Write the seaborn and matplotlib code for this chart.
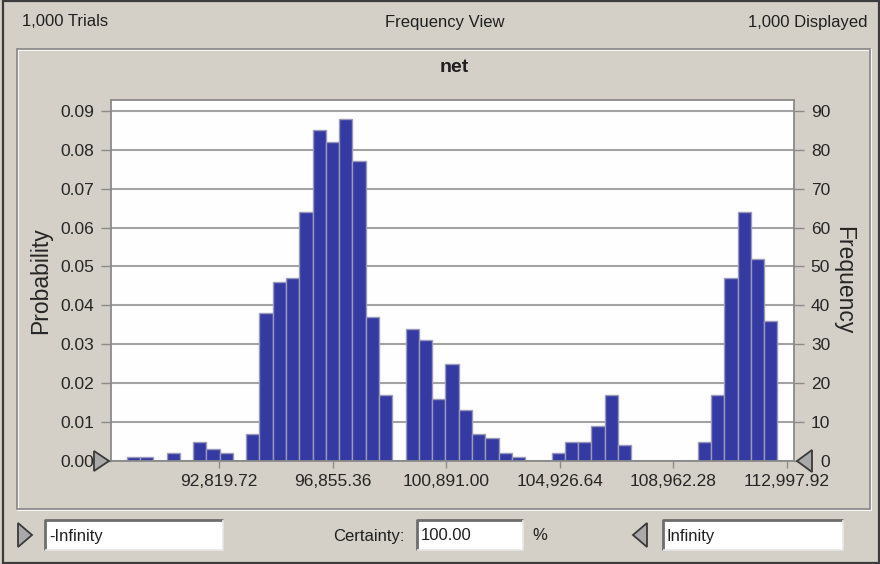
import numpy as np
import pandas as pd
import matplotlib
matplotlib.use("Agg")
import matplotlib.pyplot as plt
import seaborn as sns
from matplotlib.patches import Rectangle, Polygon
from matplotlib.ticker import FuncFormatter, FormatStrFormatter

# ---------------- data ----------------
bin_start = 89539.0
bin_width = 472.0
counts = [1, 1, 0, 2, 0, 5, 3, 2, 0, 7, 38, 46, 47, 64, 85, 82, 88, 77, 37, 17,
          0, 34, 31, 16, 25, 13, 7, 6, 2, 1, 0, 0, 2, 5, 5, 9, 17, 4, 0, 0,
          0, 0, 0, 5, 17, 47, 64, 52, 36]
x_ticks = [92819.72, 96855.36, 100891.00, 104926.64, 108962.28, 112997.92]
prob_ticks = [0.00, 0.01, 0.02, 0.03, 0.04, 0.05, 0.06, 0.07, 0.08, 0.09]
freq_ticks = [0, 10, 20, 30, 40, 50, 60, 70, 80, 90]
x_range = (88981, 113257)
title = "net"
trials_text = "1,000 Trials"
view_text = "Frequency View"
displayed_text = "1,000 Displayed"
certainty_value = "100.00"

edges = [bin_start + bin_width * i for i in range(len(counts) + 1)]
centers = [(edges[i] + edges[i + 1]) / 2 for i in range(len(counts))]
df = pd.DataFrame({"net": centers, "count": counts})

# ---------------- style ----------------
BG = "#d4d0c8"
BAR = "#343aa2"
BAR_EDGE = "#9a9ab8"
GRID = "#a3a3a3"
FONT = ["Liberation Sans", "DejaVu Sans"]

sns.set_theme(style="white")
plt.rcParams["font.family"] = FONT
plt.rcParams["text.color"] = "#202020"

W, H = 880, 564
fig = plt.figure(figsize=(W / 100, H / 100), dpi=100)
fig.patch.set_facecolor(BG)


def fx(x):
    return x / W


def fy(y):
    return 1 - y / H


# background decorations (pixel coordinates)
bg = fig.add_axes([0, 0, 1, 1], zorder=0)
bg.set_xlim(0, W)
bg.set_ylim(H, 0)
bg.axis("off")
# outer window frame
bg.add_patch(Rectangle((2.5, 1), 876, 562, fill=False, edgecolor="#3c3c3c", lw=1.6))
# etched panel border
bg.add_patch(Rectangle((18, 50), 853, 460, fill=False, edgecolor="#ffffff", lw=1.2))
bg.add_patch(Rectangle((17, 49), 853, 460, fill=False, edgecolor="#858585", lw=1.2))

# header texts
bg.text(22, 22, trials_text, ha="left", va="center", fontsize=12)
bg.text(445, 22, view_text, ha="center", va="center", fontsize=12)
bg.text(868, 22, displayed_text, ha="right", va="center", fontsize=12)
bg.text(454, 68, title, ha="center", va="center", fontsize=14, fontweight="bold")

# ---------------- main chart ----------------
ax = fig.add_axes([fx(111), fy(461), (794 - 111) / W, (461 - 100) / H], zorder=2)
ax.set_facecolor("#fefefe")
sns.histplot(data=df, x="net", weights="count", bins=edges, stat="probability",
             color=BAR, edgecolor=BAR_EDGE, linewidth=1.0, alpha=1.0, ax=ax, zorder=2)
for p in ax.patches:
    if p.get_height() == 0:
        p.set_visible(False)

ax.set_xlim(*x_range)
ax.set_ylim(0, 0.0928)
ax.set_yticks(prob_ticks)
ax.yaxis.set_major_formatter(FormatStrFormatter("%.2f"))
ax.set_xticks(x_ticks)
ax.xaxis.set_major_formatter(FuncFormatter(lambda v, p: f"{v:,.2f}"))
ax.yaxis.grid(True, color=GRID, lw=1.5)
ax.xaxis.grid(False)
ax.set_axisbelow(True)
ax.set_xlabel("")
ax.set_ylabel("Probability", fontsize=16.5, labelpad=6)
ax.tick_params(axis="y", direction="out", length=7, width=1, color="#8a8a8a",
               labelsize=12.5, pad=5, left=True)
ax.tick_params(axis="x", direction="out", length=5, width=1, color="#8a8a8a",
               labelsize=12.5, pad=4, bottom=True)
for s in ax.spines.values():
    s.set_color("#8a8a8a")
    s.set_linewidth(1.3)
    s.set_visible(True)

ax2 = ax.twinx()
ax2.set_ylim(0, 92.8)
ax2.set_yticks(freq_ticks)
ax2.tick_params(axis="y", direction="out", length=7, width=1, color="#8a8a8a",
                labelsize=12.5, pad=19, right=True)
for lab in ax2.get_yticklabels():
    lab.set_horizontalalignment("right")
ax2.set_ylabel("Frequency", fontsize=16.5, rotation=270, labelpad=18)
ax2.grid(False)
for s in ax2.spines.values():
    s.set_visible(False)

# ---------------- foreground widgets ----------------
fg = fig.add_axes([0, 0, 1, 1], zorder=5)
fg.set_xlim(0, W)
fg.set_ylim(H, 0)
fg.axis("off")
fg.patch.set_alpha(0)

tri_kw = dict(facecolor="#a9a9a9", edgecolor="#3a3a3a", lw=1.3, joinstyle="miter")
fg.add_patch(Polygon([(94, 451), (109, 461), (94, 471)], closed=True, **tri_kw))
fg.add_patch(Polygon([(812, 450), (797, 461), (812, 472)], closed=True, **tri_kw))
fg.add_patch(Polygon([(18, 523), (32, 535), (18, 547)], closed=True, **tri_kw))
fg.add_patch(Polygon([(647, 523), (633, 535), (647, 547)], closed=True, **tri_kw))


def textbox(x0, x1, y0, y1, txt):
    fg.add_patch(Rectangle((x0, y0), x1 - x0, y1 - y0, facecolor="white", edgecolor="none"))
    fg.plot([x0, x0, x1], [y1, y0, y0], color="#6e6e6e", lw=2.0, solid_capstyle="butt")
    fg.plot([x0, x1, x1], [y1, y1, y0], color="#e8e8e8", lw=1.2, solid_capstyle="butt")
    fg.text(x0 + 4, (y0 + y1) / 2 + 1, txt, ha="left", va="center", fontsize=12)


textbox(45, 223, 520, 550, "-Infinity")
textbox(417, 523, 520, 550, certainty_value)
textbox(663, 843, 520, 550, "Infinity")
fg.text(405, 536, "Certainty:", ha="right", va="center", fontsize=12)
fg.text(540, 536, "%", ha="center", va="center", fontsize=12)

fig.savefig("out.png", dpi=100, facecolor=fig.get_facecolor())
